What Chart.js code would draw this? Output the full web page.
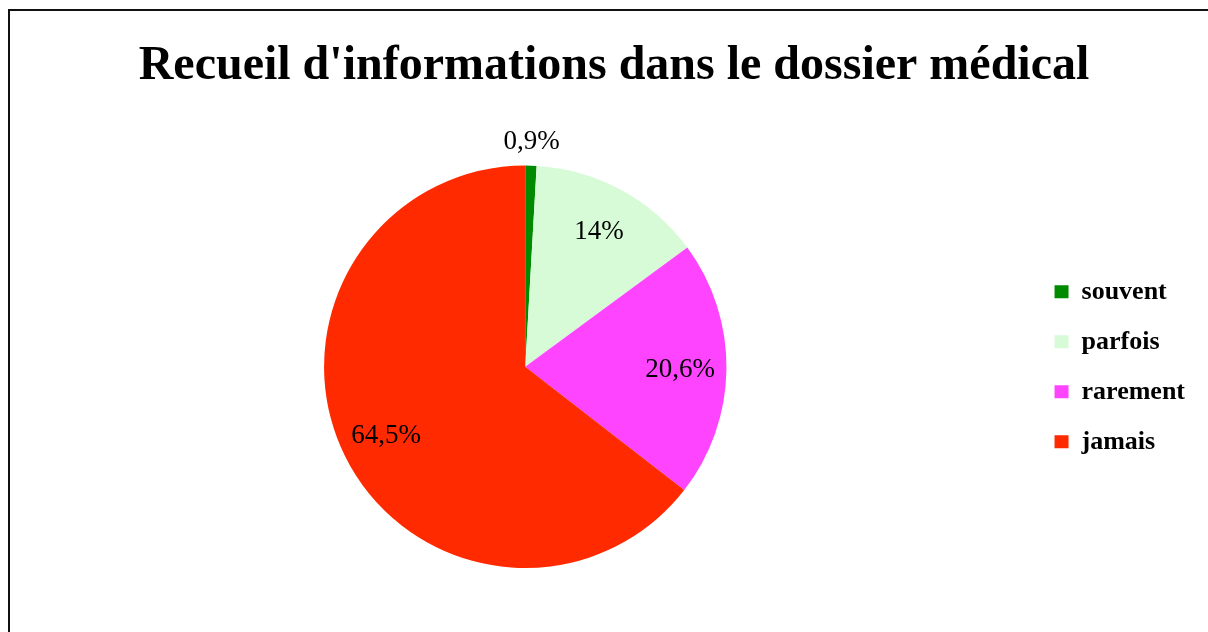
<!DOCTYPE html>
<html>
<head>
<meta charset="utf-8">
<script src="https://cdn.jsdelivr.net/npm/chart.js@4.4.1/dist/chart.umd.min.js"></script>
<style>
  html, body { margin: 0; padding: 0; background: #fff; }
  #wrap { width: 1208px; height: 632px; }
</style>
</head>
<body>
<div id="wrap"><canvas id="pie-chart" width="1208" height="632"></canvas></div>
<script>
const categories = ["souvent", "parfois", "rarement", "jamais"]
const percentages = [0.9, 14, 20.6, 64.5]
const sliceColors = ["#008a00", "#d6fbd6", "#ff44ff", "#ff2a00"]
const chartTitle = "Recueil d'informations dans le dossier médical"

// frame around the picture (only top and left edges are visible)
const framePlugin = {
    id: "frame",
    beforeDraw(chart) {
        const ctx = chart.ctx
        ctx.save()
        ctx.fillStyle = "#fff"
        ctx.fillRect(0, 0, chart.width, chart.height)
        ctx.strokeStyle = "#111"
        ctx.lineWidth = 2
        ctx.strokeRect(9, 10, chart.width + 20, chart.height + 20)
        ctx.restore()
    }
}

// percent labels, inside the slices, outside for the tiny one
const percentLabels = {
    id: "percentLabels",
    afterDatasetsDraw(chart) {
        const ctx = chart.ctx
        const meta = chart.getDatasetMeta(0)
        ctx.save()
        ctx.font = "27px 'Liberation Serif', serif"
        ctx.fillStyle = "#000"
        ctx.textAlign = "center"
        ctx.textBaseline = "middle"
        meta.data.forEach((arc, i) => {
            const { startAngle, endAngle, x, y, outerRadius } =
                arc.getProps(["startAngle", "endAngle", "x", "y", "outerRadius"], true)
            const mid = (startAngle + endAngle) / 2
            const factor = percentages[i] < 5 ? 1.125 : 0.77
            const lx = x + Math.cos(mid) * outerRadius * factor
            const ly = y + Math.sin(mid) * outerRadius * factor + 1
            ctx.fillText(String(percentages[i]).replace(".", ",") + "%", lx, ly)
        })
        ctx.restore()
    }
}

const canvas = document.getElementById("pie-chart")
new Chart(canvas.getContext("2d"), {
    type: "pie",
    data: {
        labels: categories,
        datasets: [{
            data: percentages,
            backgroundColor: sliceColors,
            borderWidth: 0,
            hoverOffset: 0
        }]
    },
    options: {
        responsive: false,
        animation: false,
        devicePixelRatio: 1,
        layout: { padding: { left: 20, right: 0, top: 0, bottom: 64 } },
        plugins: {
            title: {
                display: true,
                text: chartTitle,
                color: "#000",
                font: { family: "'Liberation Serif', 'Times New Roman', serif", size: 48, weight: "bold" },
                padding: { top: 38, bottom: 70 }
            },
            legend: {
                position: "right",
                fullSize: false,
                labels: {
                    color: "#000",
                    boxWidth: 14,
                    boxHeight: 13,
                    padding: 24,
                    font: { family: "'Liberation Serif', 'Times New Roman', serif", size: 26, weight: "bold" },
                    // trailing spaces widen the legend box so the pie sits left of centre
                    generateLabels: (chart) =>
                        Chart.overrides.pie.plugins.legend.labels.generateLabels(chart)
                            .map(item => ({ ...item, text: item.text + "  " }))
                }
            },
            tooltip: { enabled: false }
        }
    },
    plugins: [framePlugin, percentLabels]
})
</script>
</body>
</html>
